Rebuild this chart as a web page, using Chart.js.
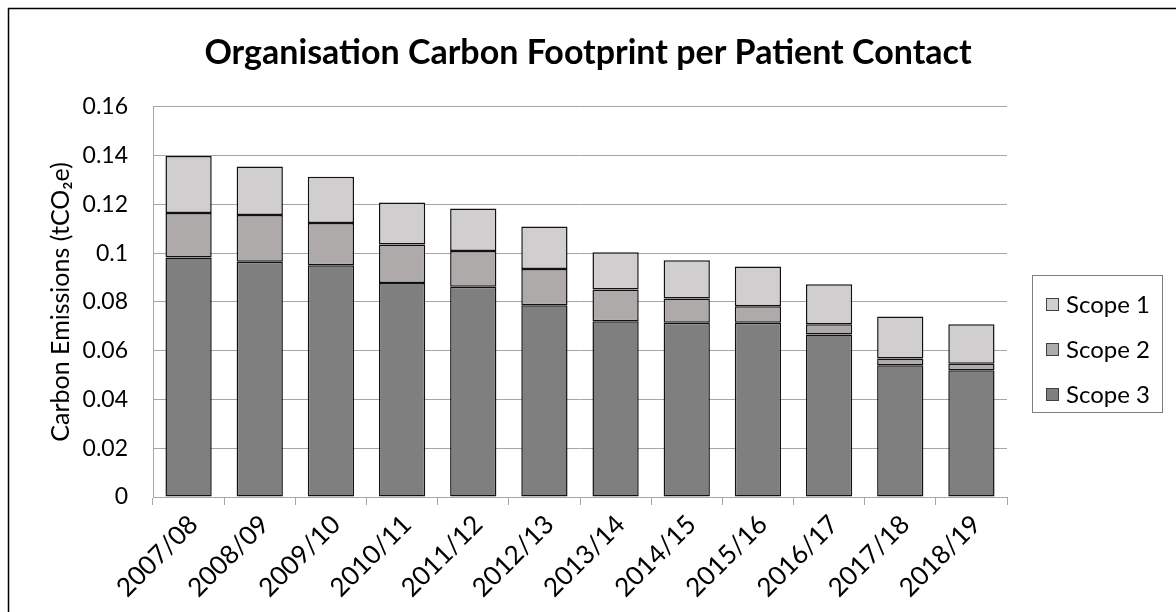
<!DOCTYPE html>
<html>
<head>
<meta charset="utf-8">
<title>Organisation Carbon Footprint per Patient Contact</title>
<script src="https://cdn.jsdelivr.net/npm/chart.js@4.4.1/dist/chart.umd.min.js"></script>
<style>
    html, body { margin: 0; padding: 0; background: #fff; }
    #wrap { width: 1176px; height: 612px; }
</style>
</head>
<body>
<div id="wrap"><canvas id="barChart" width="1176" height="612"></canvas></div>
<script>
var years  = ['2007/08', '2008/09', '2009/10', '2010/11', '2011/12', '2012/13',
              '2013/14', '2014/15', '2015/16', '2016/17', '2017/18', '2018/19']
var scope3 = [0.0982, 0.0965, 0.0950, 0.0878, 0.0862, 0.0786, 0.0721, 0.0714, 0.0714, 0.0666, 0.0540, 0.0520]
var scope2 = [0.0183, 0.0191, 0.0174, 0.0157, 0.0147, 0.0149, 0.0130, 0.0100, 0.0068, 0.0042, 0.0028, 0.0026]
var scope1 = [0.0233, 0.0199, 0.0189, 0.0173, 0.0174, 0.0174, 0.0153, 0.0157, 0.0163, 0.0164, 0.0172, 0.0162]
var yMax = 0.16
var yStep = 0.02

var fontFamily = 'Lato, "Open Sans", sans-serif'
var gridColor = '#a6a6a6'

// frame round the chart and the boxed legend on the right
var extras = {
    id: 'extras',
    beforeDraw: function(chart) {
        var ctx = chart.ctx
        ctx.save()
        ctx.fillStyle = '#fff'
        ctx.fillRect(0, 0, chart.width, chart.height)
        ctx.strokeStyle = '#000'
        ctx.lineWidth = 1.5
        ctx.beginPath()
        ctx.moveTo(8.5, chart.height)
        ctx.lineTo(8.5, 8.5)
        ctx.lineTo(chart.width, 8.5)
        ctx.stroke()
        ctx.restore()
    },
    afterDraw: function(chart) {
        var ctx = chart.ctx
        var left = chart.chartArea.right + 25
        var top = 275
        ctx.save()
        ctx.strokeStyle = '#7f7f7f'
        ctx.lineWidth = 1
        ctx.strokeRect(left + 0.5, top + 0.5, 130, 137)
        ctx.font = '24px ' + fontFamily
        ctx.textBaseline = 'middle'
        var sets = chart.data.datasets.slice().reverse()
        sets.forEach(function(ds, i) {
            var cy = top + 30 + i * 45
            ctx.fillStyle = ds.backgroundColor
            ctx.fillRect(left + 14, cy - 7, 13, 13)
            ctx.strokeStyle = '#404040'
            ctx.strokeRect(left + 14.5, cy - 6.5, 12, 12)
            ctx.fillStyle = '#000'
            ctx.fillText(ds.label, left + 34, cy)
        })
        ctx.restore()
    }
}

var barChartData = {
    labels: years,
    datasets: [
        { label: 'Scope 3', data: scope3, backgroundColor: '#7f7f7f' },
        { label: 'Scope 2', data: scope2, backgroundColor: '#aeaaaa' },
        { label: 'Scope 1', data: scope1, backgroundColor: '#d0cece' }
    ]
}
barChartData.datasets.forEach(function(ds) {
    ds.borderColor = '#111'
    ds.borderWidth = 1.5
    ds.borderSkipped = false
    ds.barPercentage = 0.65
    ds.categoryPercentage = 1
})

var barChartOptions = {
    responsive: false,
    animation: false,
    layout: { padding: 0 },
    plugins: {
        legend: { display: false },
        tooltip: { enabled: false },
        title: {
            display: true,
            text: 'Organisation Carbon Footprint per Patient Contact',
            color: '#000',
            font: { family: fontFamily, size: 34, weight: 'bold' },
            padding: { top: 33, bottom: 33 }
        }
    },
    scales: {
        x: {
            stacked: true,
            grid: { offset: true, drawOnChartArea: false, color: gridColor, tickLength: 8 },
            border: { color: gridColor },
            ticks: {
                color: '#000',
                font: { family: fontFamily, size: 26 },
                minRotation: 45,
                maxRotation: 45,
                padding: 4,
                labelOffset: 5
            },
            afterFit: function(s) { s.height = 115 }
        },
        y: {
            stacked: true,
            min: 0,
            max: yMax,
            grid: { color: gridColor, drawTicks: false },
            border: { color: gridColor },
            ticks: {
                stepSize: yStep,
                color: '#000',
                padding: 25,
                font: { family: fontFamily, size: 23 },
                callback: function(v) { return String(+v.toFixed(2)) }
            },
            title: {
                display: true,
                text: 'Carbon Emissions (tCO\u2082e)',
                color: '#000',
                font: { family: fontFamily, size: 25 },
                padding: { top: 46, bottom: 0 }
            },
            afterFit: function(s) { s.width = 153 }
        },
        side: {
            position: 'right',
            display: true,
            grid: { display: false },
            border: { display: false },
            ticks: { display: false },
            afterFit: function(s) { s.width = 169 }
        }
    }
}

new Chart(document.getElementById('barChart').getContext('2d'), {
    type: 'bar',
    data: barChartData,
    options: barChartOptions,
    plugins: [extras]
})
</script>
</body>
</html>
